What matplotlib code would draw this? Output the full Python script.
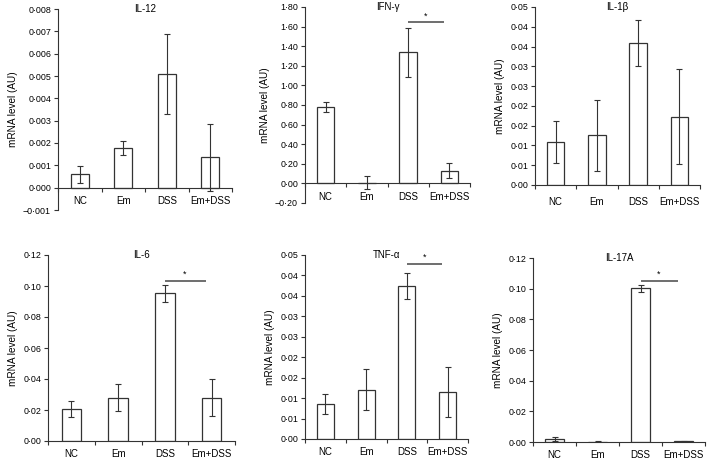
import matplotlib
matplotlib.use("Agg")
import matplotlib.pyplot as plt
import numpy as np

plt.rcParams["font.family"] = ["Liberation Sans", "DejaVu Sans"]

# ── data ──────────────────────────────────────────────────────────────────────
groups = ["NC", "Em", "DSS", "Em+DSS"]

il12_mean = [0.0006, 0.00178, 0.0051, 0.00136]
il12_err = [0.00038, 0.00032, 0.00178, 0.0015]

ifng_mean = [0.779, 0.008, 1.34, 0.129]
ifng_err = [0.055, 0.068, 0.25, 0.075]

il1b_mean = [0.0108, 0.0126, 0.0359, 0.0172]
il1b_err = [0.0053, 0.009, 0.0057, 0.012]

il6_mean = [0.0206, 0.0279, 0.0953, 0.0279]
il6_err = [0.0054, 0.0088, 0.0055, 0.012]

tnfa_mean = [0.0086, 0.012, 0.0375, 0.0115]
tnfa_err = [0.0025, 0.005, 0.0032, 0.006]

il17a_mean = [0.0019, 0.0003, 0.1002, 0.0004]
il17a_err = [0.0012, 0.0002, 0.0022, 0.0003]

# y ticks and their printed labels (journal style, middle dot decimals)
il12_ticks = [-0.001, 0.0, 0.001, 0.002, 0.003, 0.004, 0.005, 0.006, 0.007, 0.008]
il12_labels = ["−0·001", "0·000", "0·001", "0·002", "0·003", "0·004",
               "0·005", "0·006", "0·007", "0·008"]
ifng_ticks = [-0.2, 0.0, 0.2, 0.4, 0.6, 0.8, 1.0, 1.2, 1.4, 1.6, 1.8]
ifng_labels = ["−0·20", "0·00", "0·20", "0·40", "0·60", "0·80", "1·00",
               "1·20", "1·40", "1·60", "1·80"]
half_ticks = [0.0, 0.005, 0.01, 0.015, 0.02, 0.025, 0.03, 0.035, 0.04, 0.045]
half_labels = ["0·00", "0·01", "0·01", "0·02", "0·02", "0·03", "0·03",
               "0·04", "0·04", "0·05"]
big_ticks = [0.0, 0.02, 0.04, 0.06, 0.08, 0.10, 0.12]
big_labels = ["0·00", "0·02", "0·04", "0·06", "0·08", "0·10", "0·12"]

# significance bars (DSS vs Em+DSS), height in data units
ifng_sig = 1.643
il6_sig = 0.1034
tnfa_sig = 0.0429
il17a_sig = 0.1052

# ── figure ────────────────────────────────────────────────────────────────────
W, H = 709, 462
fig = plt.figure(figsize=(W / 100, H / 100), dpi=100)
fig.patch.set_facecolor("white")

DARK = "#333333"
FS = 6.4


def add_ax(x0, x1, y0, y1):
    # pixel box -> figure fraction
    return fig.add_axes([x0 / W, 1 - y1 / H, (x1 - x0) / W, (y1 - y0) / H])


def panel(ax, title, mean, err, ticks, labels, sig=None):
    x = np.arange(len(groups))
    ax.bar(x, mean, width=0.42, color="white", edgecolor=DARK, linewidth=0.9,
           zorder=2)
    ax.errorbar(x, mean, yerr=err, fmt="none", ecolor=DARK, elinewidth=0.8,
                capsize=2.0, capthick=0.8, zorder=3)
    ax.set_xlim(-0.5, len(groups) - 0.5)
    ax.set_ylim(ticks[0], ticks[-1])
    ax.set_yticks(ticks)
    ax.set_yticklabels(labels, fontsize=FS)
    ax.set_xticks(np.arange(-0.5, len(groups)), labels=[])
    ax.set_xticks(x, labels=groups, minor=True)
    ax.tick_params(axis="x", which="minor", length=0, labelsize=7, pad=6)
    ax.tick_params(axis="x", which="major", length=3, width=0.8, color=DARK,
                   direction="out")
    ax.tick_params(axis="y", length=3, width=0.8, color=DARK, direction="out",
                   pad=2)
    for s in ["top", "right"]:
        ax.spines[s].set_visible(False)
    ax.spines["bottom"].set_position(("data", 0))
    for s in ["left", "bottom"]:
        ax.spines[s].set_color(DARK)
        ax.spines[s].set_linewidth(0.8)
    ax.set_ylabel("mRNA level (AU)", fontsize=7.2, labelpad=4)
    ax.text(0.5, 1.0, title, transform=ax.transAxes, ha="center", va="center",
            fontsize=7)
    if sig is not None:
        ax.plot([2.0, 2.87], [sig, sig], color="#555555", lw=1.2, zorder=3,
                solid_capstyle="butt")
        ax.annotate("*", xy=(2.43, sig), xytext=(0, 1.5),
                    textcoords="offset points", ha="center", va="bottom",
                    fontsize=FS)
    ax.patch.set_alpha(0)


ax1 = add_ax(58, 232, 9, 210)
panel(ax1, "IL-12", il12_mean, il12_err, il12_ticks, il12_labels)

ax2 = add_ax(305, 470, 7, 203)
panel(ax2, "IFN-γ", ifng_mean, ifng_err, ifng_ticks, ifng_labels, ifng_sig)

ax3 = add_ax(535, 700, 7, 185)
panel(ax3, "IL-1β", il1b_mean, il1b_err, half_ticks, half_labels)
ax3.tick_params(axis="x", which="minor", pad=9)

ax4 = add_ax(48, 235, 255, 441)
panel(ax4, "IL-6", il6_mean, il6_err, big_ticks, big_labels, il6_sig)

ax5 = add_ax(305, 468, 255, 439)
panel(ax5, "TNF-α", tnfa_mean, tnfa_err, half_ticks, half_labels, tnfa_sig)

ax6 = add_ax(533, 705, 258, 442)
panel(ax6, "IL-17A", il17a_mean, il17a_err, big_ticks, big_labels, il17a_sig)

fig.savefig("out.png", dpi=100, facecolor="white")
